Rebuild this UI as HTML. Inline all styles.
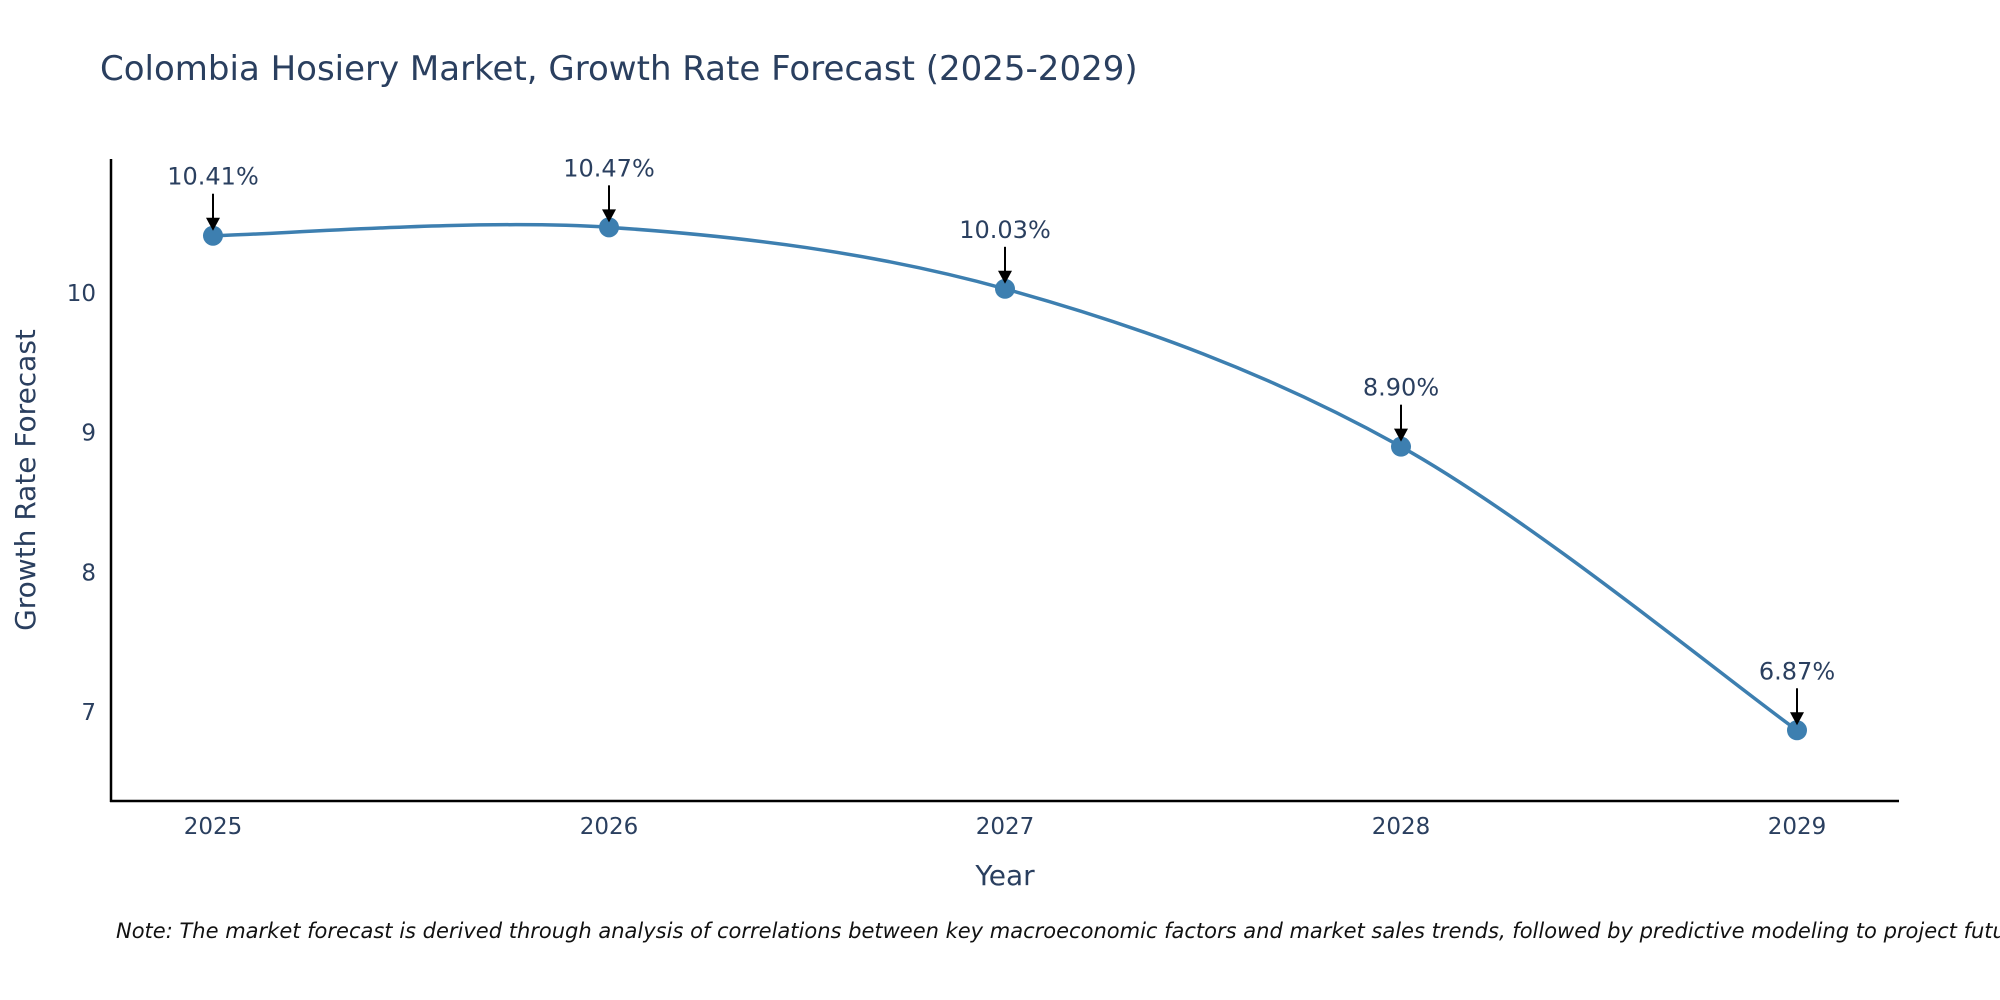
<!DOCTYPE html>
<html><head><meta charset="utf-8"><style>
body{margin:0;background:#fff;}
svg{display:block;font-family:"DejaVu Sans","Liberation Sans",sans-serif;}
</style></head><body>
<svg id="chart" width="2000" height="1000" viewBox="0 0 2000 1000">
<text x="100" y="80" font-size="34" fill="#2a3f5f">Colombia Hosiery Market, Growth Rate Forecast (2025-2029)</text>
<g id="axes"></g>
<g id="series"></g>
<text x="1005" y="885" font-size="28" fill="#2a3f5f" text-anchor="middle">Year</text>
<text transform="translate(35,480) rotate(-90)" font-size="28" fill="#2a3f5f" text-anchor="middle">Growth Rate Forecast</text>
<text x="116" y="938" font-size="21" font-style="italic" fill="#111">Note: The market forecast is derived through analysis of correlations between key macroeconomic factors and market sales trends, followed by predictive modeling to project future sales</text>
</svg>
<script>
const categories = [2025, 2026, 2027, 2028, 2029];
const values = [10.41, 10.47, 10.03, 8.90, 6.87];
const labels = ["10.41%", "10.47%", "10.03%", "8.90%", "6.87%"];
const yTicks = [7, 8, 9, 10];

const NS = "http://www.w3.org/2000/svg";
const X0 = 213, XSTEP = 396;
const xScale = i => X0 + i * XSTEP;
const yScale = v => 293 - (v - 10) * 139.7;
function mk(tag, attrs, parent, text){
  const e = document.createElementNS(NS, tag);
  for (const k in attrs) e.setAttribute(k, attrs[k]);
  if (text !== undefined) e.textContent = text;
  parent.appendChild(e); return e;
}
const axes = document.getElementById('axes');
const series = document.getElementById('series');
let a = mk('line', {x1:111,y1:159,x2:111,y2:802,stroke:'#000','stroke-width':2.5}, axes);


a = mk('line', {x1:110,y1:801,x2:1899,y2:801,stroke:'#000','stroke-width':2.5}, axes);


yTicks.forEach(t => {
  const e = mk('text', {x:96, y:yScale(t)+8, 'font-size':23, fill:'#2a3f5f','text-anchor':'end'}, axes, String(t));
  
  
});
categories.forEach((c, i) => {
  const e = mk('text', {x:xScale(i), y:834, 'font-size':23, fill:'#2a3f5f','text-anchor':'middle'}, axes, String(c));
  
  
});
const pts = values.map((v, i) => [xScale(i), yScale(v)]);
let d = `M${pts[0][0]},${pts[0][1]}`;
for (let i = 0; i < pts.length - 1; i++) {
  const p0 = pts[Math.max(0, i-1)], p1 = pts[i], p2 = pts[i+1], p3 = pts[Math.min(pts.length-1, i+2)];
  const c1 = [p1[0] + (p2[0]-p0[0])/6, p1[1] + (p2[1]-p0[1])/6];
  const c2 = [p2[0] - (p3[0]-p1[0])/6, p2[1] - (p3[1]-p1[1])/6];
  d += ` C${c1[0]},${c1[1]} ${c2[0]},${c2[1]} ${p2[0]},${p2[1]}`;
}
const line = mk('path', {d, fill:'none', stroke:'#3d7fb0','stroke-width':3.5}, series);


pts.forEach((p, i) => {
  const c = mk('circle', {cx:p[0], cy:p[1], r:10, fill:'#3d7fb0'}, series);
  
  
  const l = mk('line', {x1:p[0], y1:p[1]-42, x2:p[0], y2:p[1]-16, stroke:'#000','stroke-width':2}, series);
  
  
  const h = mk('polygon', {points:`${p[0]-7},${p[1]-18} ${p[0]+7},${p[1]-18} ${p[0]},${p[1]-5}`, fill:'#000'}, series);
  
  
  const t = mk('text', {x:p[0], y:p[1]-51, 'font-size':24, fill:'#2a3f5f','text-anchor':'middle'}, series, labels[i]);
  
  
});
</script>
</body></html>
